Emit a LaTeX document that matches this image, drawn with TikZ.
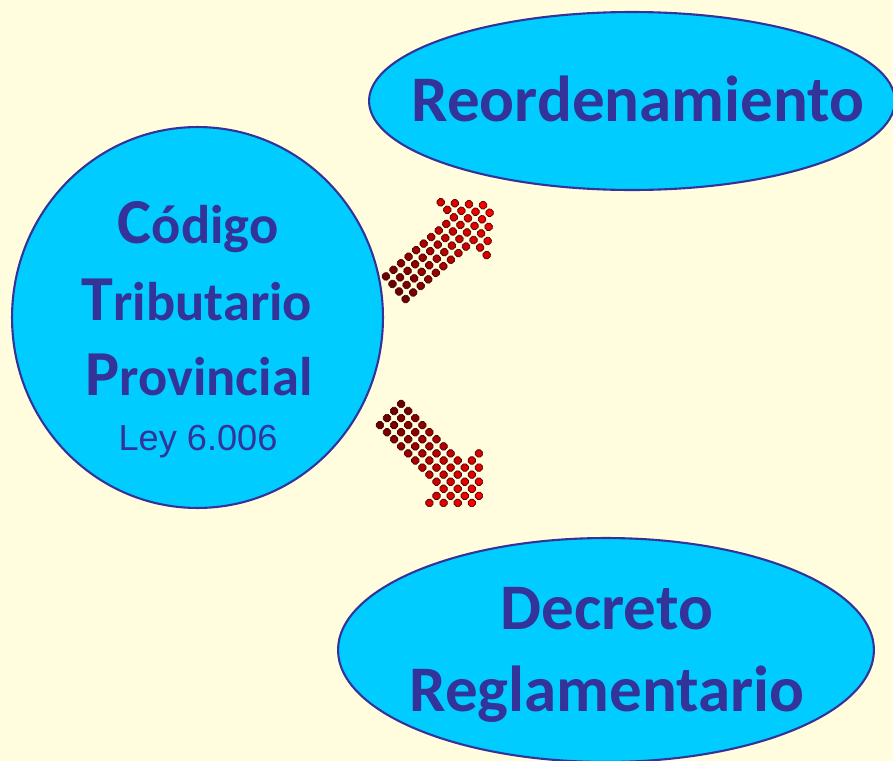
\documentclass[tikz,border=0pt]{standalone}
\usepackage{fontspec}
\newfontfamily\calibrifont{Carlito}
\newfontfamily\arialfont{Liberation Sans}
\usepackage{tikz}
\usetikzlibrary{shapes.geometric}
\definecolor{cream}{RGB}{255,253,222}
\definecolor{skyfill}{RGB}{0,204,255}
\definecolor{inkblue}{RGB}{51,51,153}
\tikzstyle{bubble}=[ellipse, draw=inkblue, fill=skyfill, line width=1.2pt, inner sep=0pt]
\tikzstyle{bigword}=[inkblue, inner sep=0pt, anchor=base, font=\calibrifont\bfseries\fontsize{37}{44}\selectfont]
\tikzstyle{midword}=[inkblue, inner sep=0pt, anchor=base, font=\calibrifont\bfseries\fontsize{31}{36}\selectfont]
\tikzstyle{note}=[inkblue, inner sep=0pt, anchor=base, font=\arialfont\fontsize{20.6}{24}\selectfont]
\tikzstyle{dotsq}=[draw=red!30!black, line width=0.4pt, rounded corners=1pt]
\newcommand{\initial}[1]{{\fontsize{36.5}{40}\selectfont #1}}

\begin{document}
\begin{tikzpicture}[x=0.02cm, y=-0.02cm]
		   \fill[cream] (0,0) rectangle (893,761);
		   \useasboundingbox (0,0) rectangle (893,761);
		   \begin{scope}
			   \node (c) at (197.5,317.5) [bubble, minimum width=7.42cm, minimum height=7.62cm] {};
			   \node (r) at (632,101) [bubble, minimum width=10.52cm, minimum height=3.56cm] {};
			   \node (d) at (606,650) [bubble, minimum width=10.72cm, minimum height=4.48cm] {};

			   \node (r1) at (638,121) [bigword] {Reordenamiento};
			   \node (d1) at (607,629) [bigword] {Decreto};
			   \node (d2) at (607,711) [bigword] {Reglamentario};

			   \node (c1) at (198,243) [midword] {\initial{C}ódigo};
			   \node (c2) at (197,320) [midword] {\initial{T}ributario};
			   \node (c3) at (199,395) [midword] {\initial{P}rovincial};
			   \node (c4) at (198,450) [note] {Ley 6.006};

			   \coordinate (a1) at (392,291);
			   \coordinate (a2) at (387,411);
		   \end{scope}
		   \foreach \a/\r in {a1/41, a2/-45} {
			   \begin{scope}[shift={(\a)}, rotate=\r]
				   \foreach \i in {0,...,8}
					   \foreach \y in {-15,-5,5,15} {
						   \pgfmathsetmacro{\x}{5+10*\i}
						   \pgfmathtruncatemacro{\p}{40+60*\x/125}
						   \draw[dotsq, fill=red!\p!black] (\x-3.5,\y-3.5) rectangle (\x+3.5,\y+3.5);
					   }
				   \foreach \x/\n in {95/3,105/2,115/1,125/0}
					   \foreach \j in {0,...,\n}
						   \foreach \s in {-1,1} {
							   \pgfmathsetmacro{\y}{\s*(5+10*\j)}
							   \pgfmathtruncatemacro{\p}{40+60*\x/125}
							   \draw[dotsq, fill=red!\p!black] (\x-3.5,\y-3.5) rectangle (\x+3.5,\y+3.5);
						   }
			   \end{scope}
		   }
\end{tikzpicture}
\end{document}
